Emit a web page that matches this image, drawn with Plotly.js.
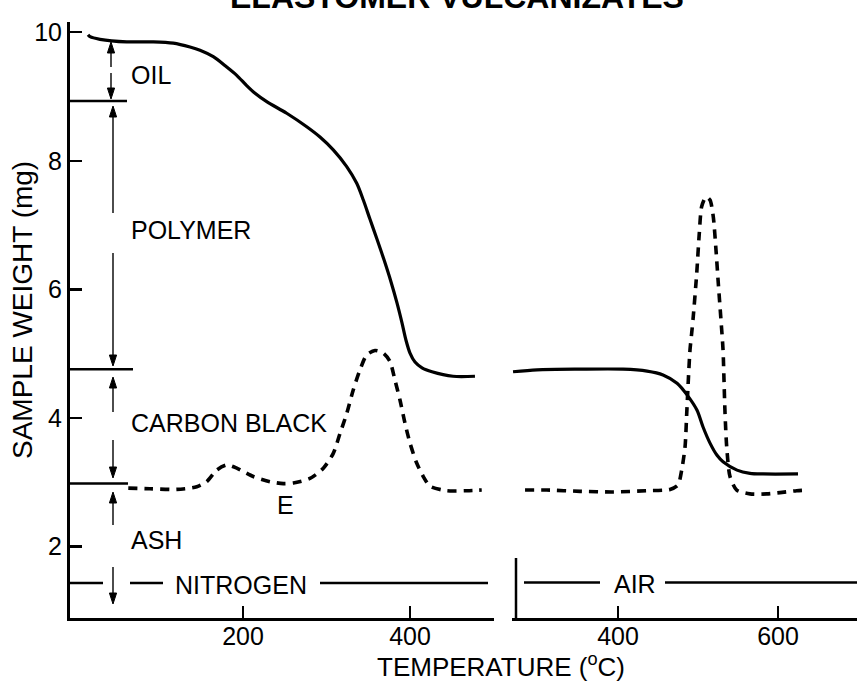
<!DOCTYPE html>
<html><head><meta charset="utf-8">
<script src="https://cdn.plot.ly/plotly-3.0.1.min.js"></script>
<style>html,body{margin:0;padding:0;background:#fff;}</style>
</head><body>
<div id="chart" style="width:857px;height:683px;"></div>
<script>
// ---- Data ----
// Nitrogen atmosphere: weight curve (solid)
const n2Temp   = [14.4, 16.8, 28.7, 60.7, 92.6, 116.5, 136.5, 148.5, 164.4, 180.5, 192.5, 204.4, 214.4, 228.4, 252.3, 276.3, 292.2, 308.1, 324.2, 336.2, 344.1, 352.1, 360.5, 368.9, 377.2, 384.4, 390.4, 395.2, 400.0, 406.0, 414.4, 426.3, 451.5, 477.8];
const n2Weight = [9.96, 9.93, 9.89, 9.85, 9.85, 9.83, 9.77, 9.72, 9.62, 9.46, 9.33, 9.17, 9.05, 8.92, 8.74, 8.53, 8.37, 8.17, 7.91, 7.65, 7.39, 7.09, 6.78, 6.46, 6.12, 5.79, 5.48, 5.21, 5.01, 4.87, 4.78, 4.72, 4.65, 4.65];
// Nitrogen atmosphere: derivative curve (dashed)
const n2DerTemp = [62.6, 88.6, 120.6, 144.6, 156.5, 168.5, 180.5, 192.5, 212.3, 232.3, 248.3, 260.2, 280.2, 296.2, 308.1, 316.2, 324.2, 332.1, 340.1, 348.1, 358.1, 368.0, 376.0, 382.0, 388.0, 394.0, 400.0, 408.0, 415.9, 423.9, 443.9, 467.9, 485.9];
const n2Der     = [2.91, 2.90, 2.89, 2.93, 3.01, 3.19, 3.27, 3.22, 3.09, 3.01, 2.98, 2.99, 3.06, 3.22, 3.45, 3.76, 4.07, 4.44, 4.75, 4.98, 5.05, 5.01, 4.88, 4.59, 4.28, 3.92, 3.61, 3.30, 3.09, 2.94, 2.87, 2.87, 2.88];
// Air atmosphere: weight curve (solid)
const airTemp   = [268.8, 298.8, 352.5, 406.3, 436.3, 456.3, 473.8, 486.3, 498.8, 506.3, 515.0, 523.8, 531.3, 548.8, 565.0, 581.3, 625.0];
const airWeight = [4.72, 4.75, 4.76, 4.76, 4.73, 4.67, 4.54, 4.36, 4.12, 3.86, 3.61, 3.42, 3.32, 3.19, 3.14, 3.13, 3.13];
// Air atmosphere: derivative curve (dashed)
const airDerTemp = [283.8, 310.9, 352.5, 393.8, 435.9, 465.0, 475.0, 479.6, 483.8, 485.9, 487.9, 490.0, 492.1, 494.1, 498.4, 501.6, 504.6, 510.0, 515.0, 519.1, 522.5, 525.4, 528.4, 531.3, 532.5, 533.8, 535.9, 540.0, 548.4, 565.0, 585.9, 602.5, 623.4, 637.9];
const airDer     = [2.88, 2.88, 2.86, 2.85, 2.87, 2.89, 2.96, 3.19, 3.55, 4.07, 4.59, 5.06, 5.32, 5.58, 6.25, 6.87, 7.29, 7.44, 7.39, 7.13, 6.61, 6.09, 5.58, 5.06, 4.59, 4.07, 3.55, 3.09, 2.88, 2.82, 2.82, 2.84, 2.87, 2.88];
// Step levels separating the components (mg)
const stepLevels = [8.93, 4.76, 2.98];
const componentLabels = ['OIL', 'POLYMER', 'CARBON BLACK', 'ASH'];
const yTickVals = [2, 4, 6, 8, 10];
const n2TickVals = [200, 400];
const airTickVals = [400, 600];

// ---- Layout helpers (pixel -> paper) ----
const L = 70, R = 857, T = 22, B = 618;
const px = p => (p - L) / (R - L);
const py = p => (B - p) / (B - T);
const FONT = 'Liberation Sans, Arial, Helvetica, sans-serif';

const solid = {color: '#000', width: 3.2, shape: 'spline', smoothing: 0.8};
const dashed = {color: '#000', width: 3.6, dash: '9px,7px', shape: 'spline', smoothing: 0.7};

const traces = [
  {x: n2Temp, y: n2Weight, xaxis: 'x', yaxis: 'y', mode: 'lines', line: solid, hoverinfo: 'none'},
  {x: n2DerTemp, y: n2Der, xaxis: 'x', yaxis: 'y', mode: 'lines', line: dashed, hoverinfo: 'none'},
  {x: airTemp, y: airWeight, xaxis: 'x2', yaxis: 'y', mode: 'lines', line: solid, hoverinfo: 'none'},
  {x: airDerTemp, y: airDer, xaxis: 'x2', yaxis: 'y', mode: 'lines', line: dashed, hoverinfo: 'none'}
];

const axisCommon = {
  showgrid: false, zeroline: false, showline: true, linecolor: '#000', linewidth: 3,
  ticks: 'inside', ticklen: 12, tickwidth: 2.5, tickcolor: '#000',
  tickfont: {family: FONT, size: 25, color: '#000'}, fixedrange: true
};

const shapes = [];
// component step lines at the left axis
const stepEnds = [127, 133, 128];
stepLevels.forEach((lv, i) => {
  shapes.push({type: 'line', xref: 'paper', yref: 'y', x0: 0, x1: px(stepEnds[i]), y0: lv, y1: lv,
    line: {color: '#000', width: 2.5}});
});
// atmosphere lines
const hl = (a, b, y) => shapes.push({type: 'line', xref: 'paper', yref: 'paper', x0: px(a), x1: px(b), y0: py(y), y1: py(y), line: {color: '#000', width: 2.5}});
hl(70, 103, 583); hl(130, 163, 583); hl(320, 488, 583);
hl(524, 600, 582.5); hl(665, 857, 582.5);
// short vertical axis stub of the air panel
shapes.push({type: 'line', xref: 'paper', yref: 'paper', x0: px(516), x1: px(516), y0: py(558), y1: py(618), line: {color: '#000', width: 2.5}});

// arrows drawn as shaft + filled head
const arr = (x, tip, tail) => {
  const dir = tail > tip ? 1 : -1;      // 1: head points up
  const hlen = 11, hw = 3.6;
  const base = tip + dir * hlen;
  shapes.push({type: 'line', xref: 'paper', yref: 'paper', x0: px(x), x1: px(x), y0: py(base), y1: py(tail), line: {color: '#000', width: 1.4}});
  shapes.push({type: 'path', xref: 'paper', yref: 'paper',
    path: `M ${px(x)},${py(tip)} L ${px(x - hw)},${py(base)} L ${px(x + hw)},${py(base)} Z`,
    fillcolor: '#000', line: {color: '#000', width: 1}});
};
arr(111, 42, 67); arr(111, 99, 73);
arr(113, 106, 213); arr(113, 366, 253);
arr(113, 377, 412); arr(113, 478, 440);
arr(113, 492, 525); arr(113, 604, 567);

const annotations = [];
const txt = (t, x, y, anchor, size) => annotations.push({text: t, xref: 'paper', yref: 'paper', x: px(x), y: py(y),
  xanchor: anchor || 'left', yanchor: 'middle', showarrow: false, font: {family: FONT, size: size || 25, color: '#000'}});
txt(componentLabels[0], 129, 75);
txt(componentLabels[1], 129, 230);
txt(componentLabels[2], 129, 423);
txt(componentLabels[3], 129, 540);
txt('E', 285, 505, 'center');
txt('NITROGEN', 241, 585, 'center');
txt('AIR', 635, 584, 'center');
// titles
annotations.push({text: '<b>ELASTOMER VULCANIZATES</b>', xref: 'paper', yref: 'paper', x: px(457), y: py(-3),
  xanchor: 'center', yanchor: 'middle', showarrow: false, font: {family: FONT, size: 32, color: '#000'}});
annotations.push({text: 'TEMPERATURE (<sup>o</sup>C)', xref: 'paper', yref: 'paper', x: px(501), y: py(666),
  xanchor: 'center', yanchor: 'middle', showarrow: false, font: {family: FONT, size: 26, color: '#000'}});
annotations.push({text: 'SAMPLE WEIGHT (mg)', xref: 'paper', yref: 'paper', x: px(22), y: py(310), textangle: -90,
  xanchor: 'center', yanchor: 'middle', showarrow: false, font: {family: FONT, size: 28, color: '#000'}});

const layout = {
  width: 857, height: 683,
  margin: {l: L, r: 0, t: T, b: 683 - B, pad: 0},
  paper_bgcolor: '#fff', plot_bgcolor: '#fff',
  showlegend: false,
  xaxis: Object.assign({}, axisCommon, {domain: [0, px(494)], range: [-7.2, 500.6], tickvals: n2TickVals, anchor: 'y', ticklabelstandoff: -6}),
  xaxis2: Object.assign({}, axisCommon, {domain: [px(512), 1], range: [267.5, 698.75], tickvals: airTickVals, anchor: 'y', ticklabelstandoff: -6}),
  yaxis: Object.assign({}, axisCommon, {range: [0.89, 10.159], tickvals: yTickVals, anchor: 'x'}),
  shapes: shapes,
  annotations: annotations
};

Plotly.newPlot('chart', traces, layout, {displayModeBar: false, staticPlot: true});
</script>
</body></html>
